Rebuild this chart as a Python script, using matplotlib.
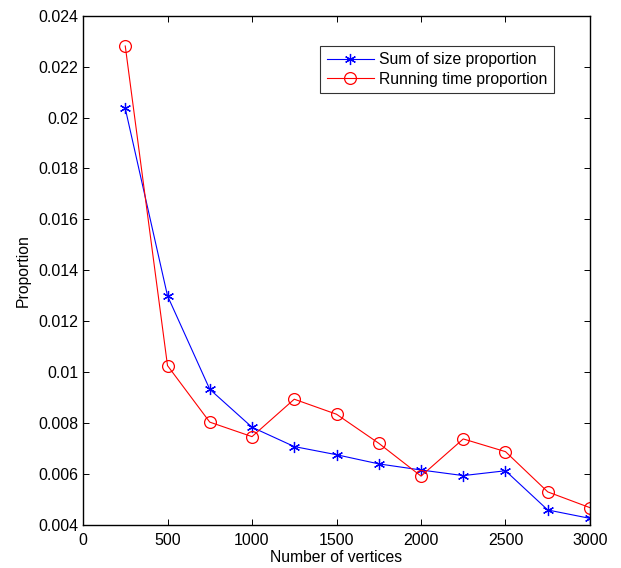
import matplotlib
matplotlib.use("Agg")
import matplotlib.pyplot as plt
from matplotlib.ticker import FuncFormatter

plt.rcParams['font.family'] = ['Liberation Sans', 'DejaVu Sans']

vertices = [250, 500, 750, 1000, 1250, 1500, 1750, 2000, 2250, 2500, 2750, 3000]
size_prop = [0.02036, 0.0130, 0.00933, 0.00784, 0.00708, 0.00676, 0.0064,
             0.00616, 0.00594, 0.00613, 0.00459, 0.00426]
time_prop = [0.02281, 0.01026, 0.00804, 0.00747, 0.00894, 0.00835, 0.00721,
             0.00592, 0.00738, 0.00688, 0.0053, 0.00468]
xticks = [0, 500, 1000, 1500, 2000, 2500, 3000]
yticks = [0.004, 0.006, 0.008, 0.01, 0.012, 0.014, 0.016, 0.018, 0.02, 0.022, 0.024]

fig = plt.figure(figsize=(6.21, 5.68), dpi=100)
ax = fig.add_axes([83/621, 43/568, 507/621, 509.3/568])

ax.plot(vertices, size_prop, color='blue', marker=(6, 2, 0), markersize=8, lw=0.8,
        markeredgewidth=0.9, label='Sum of size proportion')
ax.plot(vertices, time_prop, color='red', marker='o', markersize=8.5, lw=0.8,
        markerfacecolor='none', markeredgewidth=0.9, label='Running time proportion')

ax.set_xlim(0, 3000)
ax.set_ylim(0.004, 0.024)
ax.set_xticks(xticks)
ax.set_yticks(yticks)
ax.yaxis.set_major_formatter(FuncFormatter(lambda v, p: '%g' % round(v, 4)))
ax.tick_params(direction='in', top=True, right=True, labelsize=11.5, length=4, width=0.7)
ax.tick_params(axis='x', pad=5.5)
ax.tick_params(axis='y', pad=3.5)
for s in ax.spines.values():
    s.set_linewidth(1.0)

ax.set_xlabel('Number of vertices', fontsize=11.3, labelpad=2)
ax.set_ylabel('Proportion', fontsize=11.3, labelpad=5)

leg = ax.legend(loc='upper right', bbox_to_anchor=(0.929, 0.9405), borderaxespad=0,
                fontsize=11.3, frameon=True, fancybox=False, handlelength=3.0,
                borderpad=0.4, labelspacing=0.3, handletextpad=0.35)
leg.get_frame().set_edgecolor('black')
leg.get_frame().set_linewidth(0.8)

fig.savefig('out.png', dpi=100)
